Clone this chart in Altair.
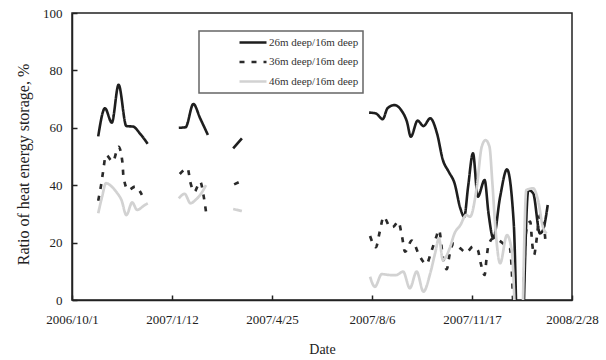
import altair as alt
import pandas as pd

SERIES = ["26m deep/16m deep", "36m deep/16m deep", "46m deep/16m deep"]

D26 = [
    ["2006-10-28", "2006-11-04", "2006-11-11", "2006-11-18", "2006-11-26", "2006-12-03", "2006-12-10", "2006-12-18"],
    ["2007-01-19", "2007-01-26", "2007-02-03", "2007-02-10", "2007-02-18"],
    ["2007-03-16", "2007-03-25"],
    ["2007-08-03", "2007-08-10", "2007-08-17", "2007-08-22", "2007-08-29", "2007-09-05", "2007-09-11", "2007-09-15",
     "2007-09-22", "2007-09-28", "2007-10-05", "2007-10-12", "2007-10-18", "2007-10-24", "2007-10-30", "2007-11-05",
     "2007-11-09", "2007-11-13", "2007-11-18", "2007-11-23", "2007-11-30", "2007-12-04", "2007-12-09", "2007-12-16",
     "2007-12-23", "2007-12-30", "2008-01-05", "2008-01-14", "2008-01-19", "2008-01-26", "2008-01-29", "2008-02-03"],
]
V26 = [
    [57.0, 66.8, 61.8, 75.0, 60.6, 60.4, 58.0, 54.4],
    [60.0, 60.2, 68.3, 63.3, 57.5],
    [52.8, 56.3],
    [65.3, 65.0, 63.0, 66.8, 67.9, 66.2, 62.1, 56.9,
     62.5, 60.6, 63.3, 58.0, 48.8, 44.7, 40.7, 31.9,
     29.0, 39.5, 51.1, 36.0, 41.8, 30.2, 21.5, 36.0,
     45.5, 26.7, -40.0, 38.3, 37.2, 23.2, 24.3, 33.1],
]

D36 = [
    ["2006-10-28", "2006-10-31", "2006-11-02", "2006-11-05", "2006-11-12", "2006-11-18", "2006-11-22", "2006-11-23",
     "2006-11-28", "2006-12-05", "2006-12-12"],
    ["2007-01-20", "2007-01-28", "2007-01-31", "2007-02-04", "2007-02-10", "2007-02-14", "2007-02-16"],
    ["2007-03-17", "2007-03-23"],
    ["2007-08-04", "2007-08-10", "2007-08-14", "2007-08-18", "2007-08-25", "2007-08-28", "2007-09-02", "2007-09-06",
     "2007-09-09", "2007-09-16", "2007-09-24", "2007-10-01", "2007-10-06", "2007-10-11", "2007-10-14", "2007-10-18",
     "2007-10-22", "2007-10-25", "2007-10-29", "2007-11-05", "2007-11-11", "2007-11-18", "2007-11-23", "2007-11-26",
     "2007-11-30", "2007-12-02", "2007-12-04", "2007-12-09", "2007-12-14", "2007-12-23", "2007-12-26", "2008-01-04",
     "2008-01-12", "2008-01-16", "2008-01-18", "2008-01-20", "2008-01-22", "2008-01-26", "2008-01-29", "2008-02-01"],
]
V36 = [
    [34.6, 40.1, 44.7, 50.5, 48.2, 53.4, 47.8, 43.0, 38.3, 39.5, 36.6],
    [43.9, 45.9, 40.9, 37.7, 41.2, 35.4, 30.8],
    [40.3, 41.2],
    [22.3, 18.4, 23.8, 29.0, 25.3, 25.5, 27.3, 22.0,
     16.8, 20.7, 15.3, 12.5, 16.8, 21.8, 24.4, 15.1,
     10.7, 16.0, 19.7, 18.0, 16.5, 18.6, 17.4, 12.8,
     8.7, 14.5, 19.2, 21.5, 20.9, 18.6, 18.0, -40.0,
     24.4, 27.3, 19.7, 15.7, 19.7, 29.6, 28.2, 19.2],
]

D46 = [
    ["2006-10-28", "2006-11-01", "2006-11-05", "2006-11-11", "2006-11-16", "2006-11-21", "2006-11-26", "2006-12-02",
     "2006-12-07", "2006-12-15", "2006-12-18"],
    ["2007-01-19", "2007-01-25", "2007-01-31", "2007-02-05", "2007-02-10", "2007-02-16"],
    ["2007-03-16", "2007-03-25"],
    ["2007-08-04", "2007-08-09", "2007-08-16", "2007-08-25", "2007-08-31", "2007-09-07", "2007-09-14", "2007-09-21",
     "2007-09-28", "2007-10-05", "2007-10-10", "2007-10-14", "2007-10-18", "2007-10-25", "2007-10-30", "2007-11-05",
     "2007-11-11", "2007-11-15", "2007-11-22", "2007-11-27", "2007-12-01", "2007-12-05", "2007-12-08", "2007-12-11",
     "2007-12-16", "2007-12-23", "2007-12-28", "2008-01-05", "2008-01-12", "2008-01-19", "2008-01-24", "2008-01-29",
     "2008-02-02"],
]
V46 = [
    [30.2, 36.0, 40.7, 39.5, 37.5, 34.8, 29.6, 34.0, 31.4, 33.1, 33.7],
    [35.4, 37.0, 33.7, 34.8, 36.6, 40.0],
    [31.7, 31.0],
    [8.1, 4.6, 9.0, 8.7, 8.7, 9.9, 4.1, 9.9,
     2.9, 9.3, 16.3, 21.5, 13.9, 18.0, 23.2, 26.1,
     29.6, 29.0, 39.5, 53.4, 55.7, 53.4, 40.7, 25.5,
     12.8, 22.6, 17.0, -40.0, 38.3, 38.9, 34.8, 25.5,
     23.2],
]

TICK_DATES = [(2006, 10, 1), (2007, 1, 12), (2007, 4, 25), (2007, 8, 6), (2007, 11, 17), (2008, 2, 28)]
Y_TICKS = [0, 20, 40, 60, 80, 100]

rows = []
for name, dsegs, vsegs in [(SERIES[0], D26, V26), (SERIES[1], D36, V36), (SERIES[2], D46, V46)]:
    for i, (ds, vs) in enumerate(zip(dsegs, vsegs)):
        for d, v in zip(ds, vs):
            rows.append({"date": d, "value": v, "series": name, "seg": f"{name}-{i}"})
df = pd.DataFrame(rows)

tick_vals = [alt.DateTime(year=y, month=m, date=d, utc=True) for (y, m, d) in TICK_DATES]
xscale = alt.Scale(type="utc", domain=[tick_vals[0], tick_vals[-1]], nice=False)
yscale = alt.Scale(domain=[0, 100], nice=False)

W, H = 500, 287
FONT = "Liberation Serif, Times New Roman, DejaVu Serif, serif"
NBSP = "\u00a0" * 14

legend = alt.Legend(
    orient="none", legendX=127, legendY=18, direction="vertical",
    fillColor="white", strokeColor="#666", padding=4,
    symbolType="stroke", symbolSize=729, symbolOffset=35,
    labelOffset=1, labelFont=FONT, labelFontSize=11, labelColor="#333",
    clipHeight=15, rowPadding=4.5,
    labelExpr="datum.label + '" + NBSP + "'",
)

lines = alt.Chart(df).mark_line(interpolate="monotone", clip=True).encode(
    x=alt.X("date:T", scale=xscale,
            axis=alt.Axis(values=tick_vals, format="%Y/%-m/%-d", ticks=False, tickSize=0,
                          labelFlush=False, labelOverlap=False, labelFont=FONT,
                          labelPadding=13, labelFontSize=13, labelColor="#222",
                          title="Date", titleFont=FONT, titleFontSize=14, titlePadding=16,
                          titleColor="#222", titleFontWeight="normal",
                          domainColor="#222", domainWidth=1.5, grid=False)),
    y=alt.Y("value:Q", scale=yscale,
            axis=alt.Axis(values=Y_TICKS, ticks=False, tickSize=0, labelPadding=10,
                          labelFont=FONT, labelFontSize=13, labelColor="#222",
                          labelFlush=False, labelOverlap=False,
                          title="Ratio of heat energy storage, %", titleFont=FONT, titleFontSize=16,
                          titleFontWeight="normal", titlePadding=11, titleColor="#222", titleY=151,
                          domainColor="#222", domainWidth=1.5, grid=False)),
    color=alt.Color("series:N", title=None, legend=legend,
                    scale=alt.Scale(domain=SERIES, range=["#1e1e1e", "#2a2a2a", "#d2d2d2"])),
    strokeDash=alt.StrokeDash("series:N", title=None, legend=legend,
                              scale=alt.Scale(domain=SERIES, range=[[1, 0], [5, 7], [1, 0]])),
    strokeWidth=alt.StrokeWidth("series:N", title=None, legend=legend,
                                scale=alt.Scale(domain=SERIES, range=[2.6, 2.7, 3])),
    detail="seg:N",
)

tick_layer = alt.Chart(df).mark_point(opacity=0).encode(
    x=alt.X("date:T", scale=xscale,
            axis=alt.Axis(orient="top", offset=-H, values=tick_vals, labels=False, domain=False,
                          grid=False, tickSize=5, tickWidth=1.5, tickColor="#222", title="")),
    y=alt.Y("value:Q", scale=yscale,
            axis=alt.Axis(orient="right", offset=-W, values=Y_TICKS, labels=False, domain=False,
                          grid=False, tickSize=5, tickWidth=1.5, tickColor="#222", title="")),
)

chart = alt.layer(lines, tick_layer).resolve_axis(
    x="independent", y="independent"
).properties(
    width=W, height=H,
    autosize=alt.AutoSizeParams(type="none"),
    padding={"left": 72, "top": 13, "right": 34, "bottom": 60},
).configure(
    font=FONT
).configure_view(
    stroke="#222", strokeWidth=1.5
).configure_axis(
    labelFont=FONT, titleFont=FONT, titleFontWeight="normal"
).configure_legend(
    strokeWidth=1.5, labelFont=FONT
)

chart.save("out.html", embed_options={"renderer": "svg", "actions": False})
